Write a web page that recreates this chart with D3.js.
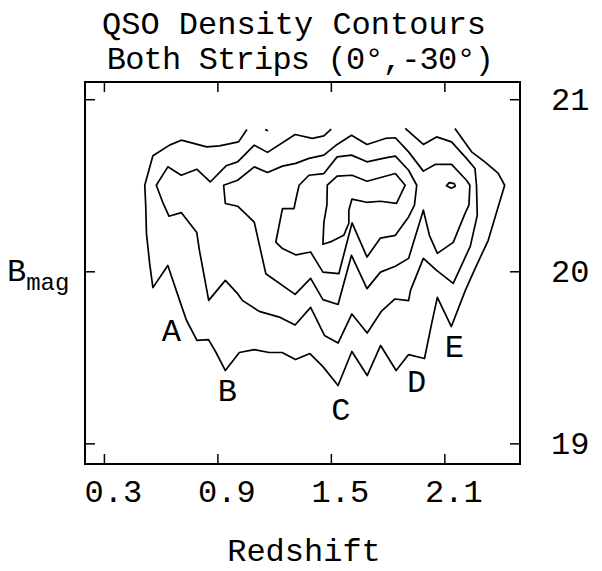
<!DOCTYPE html>
<html>
<head>
<meta charset="utf-8">
<script src="https://cdn.jsdelivr.net/npm/d3@7"></script>
<style>
  body { margin: 0; background: #fff; }
  text { font-family: "Liberation Mono", "Courier New", monospace; fill: #000; }
  .tick line { stroke: #000; stroke-width: 1.5; }
</style>
</head>
<body>
<div id="container"></div>
<script>
/* CONSTANTS AND GLOBALS */
const width = 602,
  height = 571,
  margin = { top: 82, bottom: 107, left: 85, right: 80 };

// axis ticks
const xTicks = [0.3, 0.9, 1.5, 2.1];
const yTicks = [19, 20, 21];

// contour lines as [redshift, B mag], outermost first
const level1 = [
  [1.056,20.824],[1.012,20.752],[0.911,20.729],[0.844,20.723],[0.709,20.762],[0.647,20.733],
  [0.559,20.671],[0.516,20.500],[0.521,20.384],[0.525,20.219],[0.542,20.044],[0.559,19.905],
  [0.638,20.034],[0.711,19.796],[0.737,19.714],[0.792,19.598],[0.853,19.603],[0.893,19.528],
  [0.942,19.423],[1.016,19.528],[1.095,19.545],[1.174,19.528],[1.242,19.528],[1.313,19.487],
  [1.389,19.522],[1.458,19.446],[1.538,19.336],[1.611,19.534],[1.692,19.394],[1.763,19.569],
  [1.845,19.423],[1.911,19.516],[1.995,19.493],[2.032,19.691],[2.063,19.848],[2.137,19.679],
  [2.211,19.889],[2.263,20.017],[2.332,20.180],[2.384,20.372],[2.419,20.500],[2.384,20.570],
  [2.314,20.636],[2.244,20.694],[2.156,20.830]
];
const level2 = [
  [1.502,20.826],[1.463,20.787],[1.402,20.772],[1.311,20.795],[1.165,20.691],[1.095,20.733],
  [1.007,20.636],[0.946,20.613],[0.862,20.519],[0.791,20.593],[0.709,20.558],[0.638,20.607],
  [0.577,20.500],[0.611,20.401],[0.644,20.320],[0.709,20.341],[0.791,20.225],[0.805,20.122],
  [0.854,19.831],[0.942,19.947],[1.007,19.870],[1.032,19.831],[1.121,19.767],[1.232,19.732],
  [1.311,19.688],[1.393,19.790],[1.466,19.627],[1.538,19.583],[1.611,19.752],[1.692,19.641],
  [1.768,19.769],[1.839,19.839],[1.911,19.829],[1.921,19.889],[1.989,20.075],[2.059,20.005],
  [2.147,19.930],[2.237,20.145],[2.274,20.325],[2.270,20.500],[2.262,20.597],[2.217,20.656],
  [2.138,20.752],[2.059,20.781],[1.989,20.737],[1.893,20.830]
];
const level3 = [
  [0.933,20.500],[1.007,20.529],[1.095,20.607],[1.165,20.574],[1.244,20.611],[1.314,20.627],
  [1.384,20.656],[1.463,20.675],[1.533,20.737],[1.609,20.791],[1.691,20.737],[1.788,20.772],
  [1.841,20.776],[1.911,20.694],[1.989,20.582],[2.051,20.621],[2.138,20.621],[2.217,20.529],
  [2.235,20.500],[2.230,20.384],[2.209,20.335],[2.147,20.168],[2.063,20.104],[2.021,20.209],
  [1.989,20.355],[1.911,20.075],[1.841,20.029],[1.762,19.995],[1.691,19.899],[1.609,20.093],
  [1.538,19.807],[1.458,19.835],[1.393,19.959],[1.311,19.866],[1.156,19.986],[1.095,20.286],
  [1.007,20.378],[0.942,20.394]
];
const level4 = [
  [1.332,20.500],[1.384,20.558],[1.463,20.568],[1.533,20.665],[1.609,20.675],[1.691,20.636],
  [1.788,20.659],[1.841,20.669],[1.911,20.587],[1.954,20.500],[1.942,20.384],[1.911,20.316],
  [1.841,20.209],[1.762,20.193],[1.691,20.083],[1.612,20.281],[1.542,19.986],[1.458,19.995],
  [1.393,20.112],[1.316,20.095],[1.244,20.132],[1.209,20.170],[1.244,20.364],[1.305,20.364],
  [1.314,20.413]
];
const level5 = [
  [1.458,20.157],[1.463,20.285],[1.479,20.384],[1.481,20.500],[1.533,20.553],[1.612,20.558],
  [1.691,20.523],[1.841,20.568],[1.893,20.500],[1.847,20.395],[1.762,20.407],[1.689,20.401],
  [1.611,20.419],[1.595,20.355],[1.595,20.279],[1.568,20.209],[1.505,20.174]
];
// small peak near z=2.1 and a tiny fragment at the top edge
const peakLoop = [[2.111,20.497],[2.126,20.515],[2.153,20.509],[2.158,20.494],[2.137,20.483]];
const topBit = [[1.153,20.823],[1.168,20.817]];

const openLines = [level1, level2, topBit];
const closedLines = [level3, level4, level5, peakLoop];

// letters along the outer contour
const marks = [
  { t: "A", z: 0.656, m: 19.595 },
  { t: "B", z: 0.953, m: 19.245 },
  { t: "C", z: 1.553, m: 19.135 },
  { t: "D", z: 1.953, m: 19.300 },
  { t: "E", z: 2.153, m: 19.500 }
];

/* SCALES */
const xScale = d3.scaleLinear()
  .domain([0.2, 2.5])
  .range([margin.left, width - margin.right - 2]);

const yScale = d3.scaleLinear()
  .domain([18.88, 21.1])
  .range([height - margin.bottom, margin.top]);

/* SVG */
const svg = d3.select("#container")
  .append("svg")
  .attr("width", width)
  .attr("height", height);

const x0 = xScale.range()[0], x1 = xScale.range()[1];
const y0 = yScale.range()[1], y1 = yScale.range()[0];

// frame
svg.append("rect")
  .attr("x", x0)
  .attr("y", y0)
  .attr("width", x1 - x0)
  .attr("height", y1 - y0)
  .attr("fill", "none")
  .attr("stroke", "#000")
  .attr("stroke-width", 2);

/* AXES (ticks point inward) */
const bottomAxis = svg.append("g")
  .attr("transform", `translate(0, ${y1})`)
  .call(d3.axisBottom(xScale).tickValues(xTicks).tickSizeInner(-10).tickSizeOuter(0)
    .tickFormat(d3.format(".1f")));
bottomAxis.select(".domain").remove();
bottomAxis.selectAll("text")
  .attr("y", 38)
  .attr("dy", 0)
  .attr("dx", 9)
  .style("font-size", "32px")
  .style("font-family", "Liberation Mono, monospace");

const topAxis = svg.append("g")
  .attr("transform", `translate(0, ${y0})`)
  .call(d3.axisTop(xScale).tickValues(xTicks).tickSizeInner(-10).tickSizeOuter(0).tickFormat(""));
topAxis.select(".domain").remove();

const leftAxis = svg.append("g")
  .attr("transform", `translate(${x0}, 0)`)
  .call(d3.axisLeft(yScale).tickValues(yTicks).tickSizeInner(-10).tickSizeOuter(0).tickFormat(""));
leftAxis.select(".domain").remove();

const rightAxis = svg.append("g")
  .attr("transform", `translate(${x1}, 0)`)
  .call(d3.axisRight(yScale).tickValues(yTicks).tickSizeInner(-10).tickSizeOuter(0)
    .tickPadding(31).tickFormat(d3.format("d")));
rightAxis.select(".domain").remove();
rightAxis.selectAll("text")
  .attr("dy", 10)
  .style("font-size", "32px")
  .style("font-family", "Liberation Mono, monospace");

/* CONTOURS */
const lineGen = d3.line()
  .x(d => xScale(d[0]))
  .y(d => yScale(d[1]));

const loopGen = d3.line()
  .x(d => xScale(d[0]))
  .y(d => yScale(d[1]))
  .curve(d3.curveLinearClosed);

svg.selectAll(".open")
  .data(openLines)
  .join("path")
  .attr("class", "open")
  .attr("fill", "none")
  .attr("stroke", "#000")
  .attr("stroke-width", 1.7)
  .attr("stroke-linejoin", "round")
  .attr("d", d => lineGen(d));

svg.selectAll(".loop")
  .data(closedLines)
  .join("path")
  .attr("class", "loop")
  .attr("fill", "none")
  .attr("stroke", "#000")
  .attr("stroke-width", 1.7)
  .attr("stroke-linejoin", "round")
  .attr("d", d => loopGen(d));

svg.selectAll(".mark")
  .data(marks)
  .join("text")
  .attr("class", "mark")
  .attr("x", d => xScale(d.z))
  .attr("y", d => yScale(d.m))
  .attr("text-anchor", "middle")
  .style("font-size", "32px")
  .text(d => d.t);

/* TITLES */
svg.append("text")
  .attr("x", 294)
  .attr("y", 34)
  .attr("text-anchor", "middle")
  .style("font-size", "32px")
  .text("QSO Density Contours");

svg.append("text")
  .attr("x", 300)
  .attr("y", 69)
  .attr("text-anchor", "middle")
  .style("font-size", "32px")
  .style("letter-spacing", "-0.8px")
  .text("Both Strips (0°,-30°)");

svg.append("text")
  .attr("x", 304)
  .attr("y", 561)
  .attr("text-anchor", "middle")
  .style("font-size", "32px")
  .text("Redshift");

const ylab = svg.append("text")
  .attr("x", 7)
  .attr("y", 281)
  .style("font-size", "32px");
ylab.append("tspan").text("B");
ylab.append("tspan").attr("dy", 9).style("font-size", "24px").text("mag");
</script>
</body>
</html>
